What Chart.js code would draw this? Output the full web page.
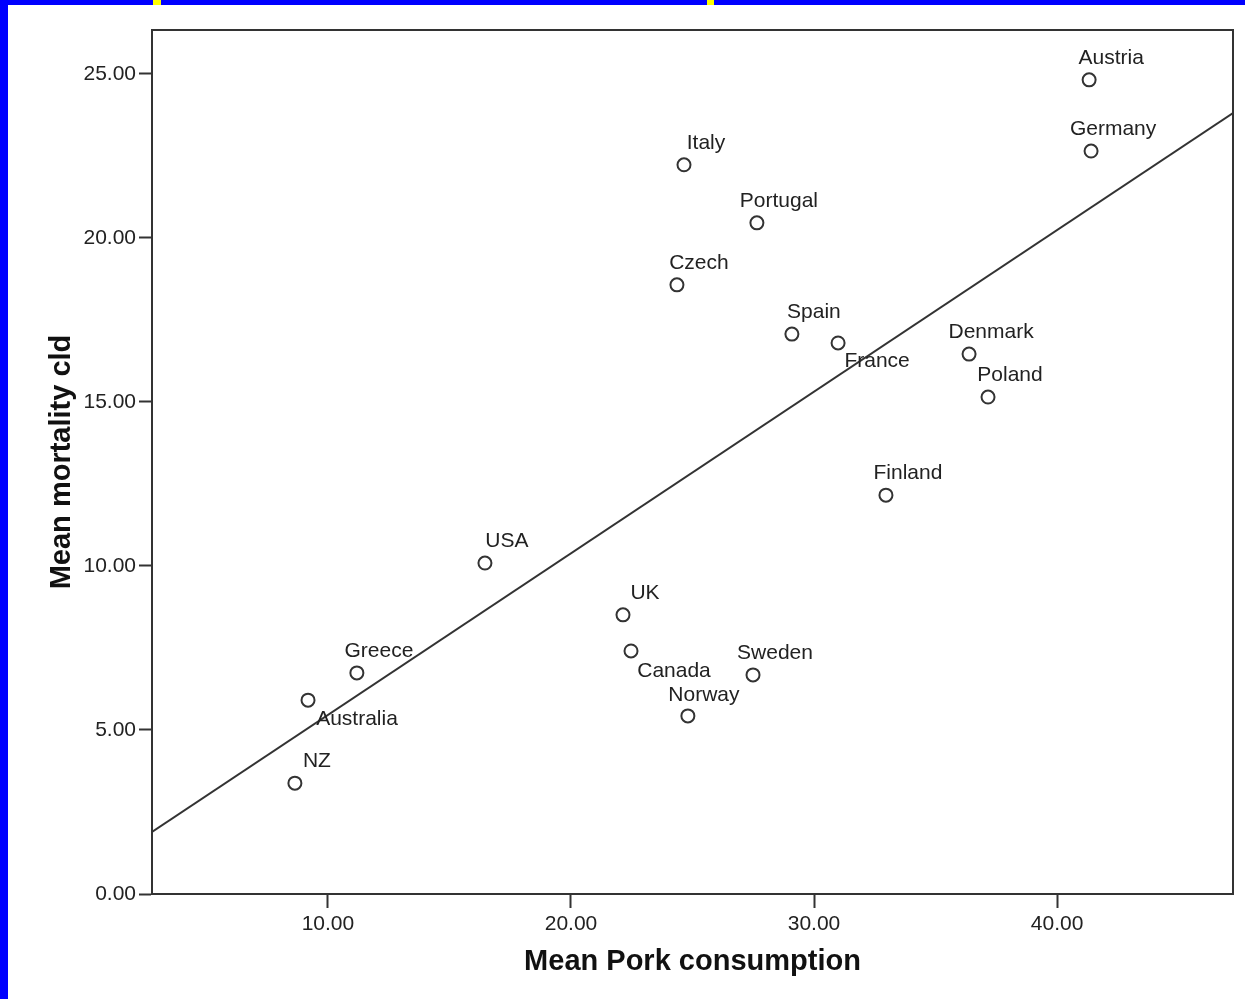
<!DOCTYPE html>
<html>
<head>
<meta charset="utf-8">
<script src="https://cdn.jsdelivr.net/npm/chart.js@4/dist/chart.umd.min.js"></script>
<style>
  body { margin: 0; background: #fff; }
  .wrap { position: relative; width: 1245px; height: 999px; overflow: hidden; }
  .bar { position: absolute; }
  canvas { position: absolute; left: 0; top: 0; }
</style>
</head>
<body>
<div class="wrap">
  <canvas id="chart" width="1245" height="999"></canvas>
  <div class="bar" style="left:0;top:0;width:1245px;height:5px;background:#0000ff"></div>
  <div class="bar" style="left:0;top:0;width:8px;height:999px;background:#0000ff"></div>
  <div class="bar" style="left:153px;top:0;width:8px;height:5px;background:#ffff00"></div>
  <div class="bar" style="left:707px;top:0;width:7px;height:5px;background:#ffff00"></div>
</div>
<script>
// countries and their values
var countries = ['Austria', 'Germany', 'Italy', 'Portugal', 'Czech', 'Spain', 'France', 'Denmark', 'Poland',
                 'Finland', 'USA', 'UK', 'Canada', 'Sweden', 'Norway', 'Greece', 'Australia', 'NZ']
var pork = [41.32, 41.40, 24.65, 27.65, 24.36, 29.09, 30.99, 36.38, 37.16,
            32.96, 16.46, 22.14, 22.47, 27.49, 24.81, 11.19, 9.18, 8.64]
var mortality = [24.82, 22.65, 22.23, 20.46, 18.57, 17.07, 16.80, 16.46, 15.15,
                 12.16, 10.09, 8.51, 7.41, 6.68, 5.43, 6.74, 5.91, 3.38]

// fit line, ends at the axis edges
var fitX = [2.76, 47.24]
var fitY = [1.89, 23.81]

var xTicks = [10, 20, 30, 40]
var yTicks = [0, 5, 10, 15, 20, 25]

// where each label sits relative to its marker (center offset, px)
var labelOffsets = {
    France: [39, 18],
    Canada: [43, 20],
    Australia: [49, 19],
    Norway: [16, -21]
}
var defaultOffset = [22, -22]

var ink = '#333333'
var family = '"Liberation Sans", Arial, sans-serif'
var textFont = '21px ' + family

var points = []
for (let i = 0; i < countries.length; i++)
    points.push({x: pork[i], y: mortality[i], name: countries[i]})

var fitLine = []
for (let i = 0; i < fitX.length; i++)
    fitLine.push({x: fitX[i], y: fitY[i]})

var labelPlugin = {
    id: 'pointLabels',
    afterDatasetsDraw(chart) {
        let ctx = chart.ctx
        let meta = chart.getDatasetMeta(1)
        ctx.save()
        ctx.font = textFont
        ctx.fillStyle = '#222'
        ctx.textAlign = 'center'
        ctx.textBaseline = 'middle'
        for (let i = 0; i < meta.data.length; i++) {
            let el = meta.data[i]
            let off = labelOffsets[countries[i]] || defaultOffset
            ctx.fillText(countries[i], el.x + off[0], el.y + off[1])
        }
        ctx.restore()
    }
}

var framePlugin = {
    id: 'frame',
    afterDraw(chart) {
        let a = chart.chartArea
        let ctx = chart.ctx
        ctx.save()
        ctx.strokeStyle = ink
        ctx.lineWidth = 2
        ctx.strokeRect(a.left, a.top, a.right - a.left, a.bottom - a.top)
        ctx.restore()
    }
}

new Chart(document.getElementById('chart').getContext('2d'), {
    type: 'scatter',
    data: {
        datasets: [{
            type: 'line',
            data: fitLine,
            borderColor: ink,
            borderWidth: 2,
            pointRadius: 0,
            fill: false
        }, {
            data: points,
            pointRadius: 6.5,
            pointBorderWidth: 2,
            pointBorderColor: ink,
            pointBackgroundColor: 'rgba(255,255,255,0)',
            pointHoverRadius: 6.5
        }]
    },
    options: {
        responsive: false,
        animation: false,
        layout: {padding: {left: 0, top: 30, right: 12, bottom: 0}},
        plugins: {legend: {display: false}, tooltip: {enabled: false}},
        scales: {
            x: {
                type: 'linear',
                min: 2.76,
                max: 47.24,
                afterFit(scale) { scale.height = 105 },
                afterBuildTicks(scale) { scale.ticks = xTicks.map(v => ({value: v})) },
                grid: {drawOnChartArea: false, drawTicks: true, tickLength: 14, tickWidth: 2, tickColor: ink},
                border: {display: true, color: ink, width: 2},
                ticks: {
                    padding: 4,
                    color: '#222',
                    font: {family: family, size: 21},
                    callback: v => v.toFixed(2)
                },
                title: {
                    display: true,
                    text: 'Mean Pork consumption',
                    color: '#111',
                    font: {family: family, size: 29, weight: 'bold'},
                    padding: {top: 0, bottom: 20}
                }
            },
            y: {
                min: 0,
                max: 26.34,
                afterFit(scale) { scale.width = 152 },
                afterBuildTicks(scale) { scale.ticks = yTicks.map(v => ({value: v})) },
                grid: {drawOnChartArea: false, drawTicks: true, tickLength: 13, tickWidth: 2, tickColor: ink},
                border: {display: true, color: ink, width: 2},
                ticks: {
                    padding: 3,
                    color: '#222',
                    font: {family: family, size: 21},
                    callback: v => v.toFixed(2)
                },
                title: {
                    display: true,
                    text: 'Mean mortality cld',
                    color: '#111',
                    font: {family: family, size: 29, weight: 'bold'},
                    padding: {top: 45, bottom: 0}
                }
            }
        }
    },
    plugins: [labelPlugin, framePlugin]
})
</script>
</body>
</html>
